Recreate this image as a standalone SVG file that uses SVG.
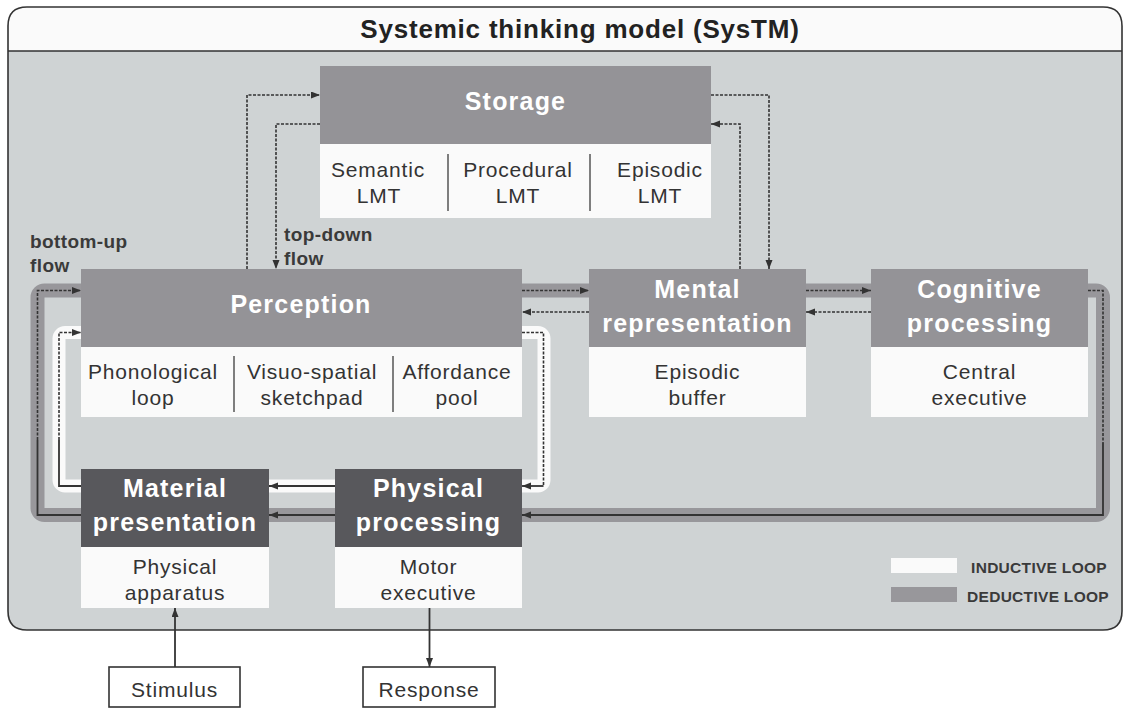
<svg xmlns="http://www.w3.org/2000/svg" width="1125" height="711" viewBox="0 0 1125 711">
<style>
.hdr{fill:#949397}
.hdrd{fill:#58585c}
.sub{fill:#fafafa}
.t-h{font-family:"Liberation Sans",Arial,sans-serif;font-weight:bold;font-size:25px;letter-spacing:1.2px;fill:#ffffff;text-anchor:middle}
.t-s{font-family:"Liberation Sans",Arial,sans-serif;font-size:21px;letter-spacing:0.8px;fill:#333333;text-anchor:middle}
.t-l{font-family:"Liberation Sans",Arial,sans-serif;font-weight:bold;font-size:19px;letter-spacing:0.4px;fill:#3a3a3a}
.t-g{font-family:"Liberation Sans",Arial,sans-serif;font-weight:bold;font-size:15.5px;letter-spacing:0.3px;fill:#3a3a3a;text-anchor:end}
.div{stroke:#555;stroke-width:1.5}
.dash{fill:none;stroke:#333;stroke-width:1.6;stroke-dasharray:3 1.5}
.solid{fill:none;stroke:#333;stroke-width:1.8}
</style>
<defs>
<marker id="ah" markerUnits="userSpaceOnUse" markerWidth="10" markerHeight="8" refX="9" refY="3.5" orient="auto">
<path d="M0,0 L9,3.5 L0,7 z" fill="#333"/>
</marker>
</defs>
<g id="frame">
<path d="M8,51 V26 Q8,7 27,7 H1103 Q1122,7 1122,26 V51 Z" fill="#fafafa"/>
<path d="M8,51 H1122 V611 Q1122,630 1103,630 H27 Q8,630 8,611 Z" fill="#cfd3d4"/>
<path d="M8,51 V26 Q8,7 27,7 H1103 Q1122,7 1122,26 V611 Q1122,630 1103,630 H27 Q8,630 8,611 Z M8,51 H1122" fill="none" stroke="#333" stroke-width="1.6"/>
<text x="580" y="38" font-family="Liberation Sans, Arial, sans-serif" font-weight="bold" font-size="26" letter-spacing="0.8" fill="#222" text-anchor="middle">Systemic thinking model (SysTM)</text>
</g>
<g id="loops">
<rect x="37.5" y="290.5" width="1065.5" height="224.5" rx="7" fill="none" stroke="#98979b" stroke-width="14"/>
<rect x="59" y="332.5" width="485" height="153.5" rx="6" fill="none" stroke="#fafafa" stroke-width="13"/>
</g>
<g id="storage">
<rect class="hdr" x="320" y="66" width="391" height="78"/>
<rect class="sub" x="320" y="144" width="391" height="74"/>
<text class="t-h" x="515.5" y="110">Storage</text>
<line class="div" x1="448" y1="154" x2="448" y2="211"/>
<line class="div" x1="590" y1="154" x2="590" y2="211"/>
<text class="t-s" x="378" y="177">Semantic</text>
<text class="t-s" x="379" y="203">LMT</text>
<text class="t-s" x="518" y="177">Procedural</text>
<text class="t-s" x="518" y="203">LMT</text>
<text class="t-s" x="660" y="177">Episodic</text>
<text class="t-s" x="660" y="203">LMT</text>
</g>
<g id="perception">
<rect class="hdr" x="81" y="269" width="441" height="78"/>
<rect class="sub" x="81" y="347" width="441" height="70"/>
<text class="t-h" x="301" y="313">Perception</text>
<line class="div" x1="234" y1="356" x2="234" y2="412"/>
<line class="div" x1="393" y1="356" x2="393" y2="412"/>
<text class="t-s" x="153" y="379">Phonological</text>
<text class="t-s" x="153" y="405">loop</text>
<text class="t-s" x="312" y="379">Visuo-spatial</text>
<text class="t-s" x="312" y="405">sketchpad</text>
<text class="t-s" x="457" y="379">Affordance</text>
<text class="t-s" x="457" y="405">pool</text>
</g>
<g id="mental">
<rect class="hdr" x="589" y="269" width="217" height="78"/>
<rect class="sub" x="589" y="347" width="217" height="70"/>
<text class="t-h" x="697.5" y="298">Mental</text>
<text class="t-h" x="697.5" y="332">representation</text>
<text class="t-s" x="697.5" y="379">Episodic</text>
<text class="t-s" x="697.5" y="405">buffer</text>
</g>
<g id="cognitive">
<rect class="hdr" x="871" y="269" width="217" height="78"/>
<rect class="sub" x="871" y="347" width="217" height="70"/>
<text class="t-h" x="979.5" y="298">Cognitive</text>
<text class="t-h" x="979.5" y="332">processing</text>
<text class="t-s" x="979.5" y="379">Central</text>
<text class="t-s" x="979.5" y="405">executive</text>
</g>
<g id="material">
<rect class="hdrd" x="81" y="469" width="188" height="78"/>
<rect class="sub" x="81" y="547" width="188" height="61"/>
<text class="t-h" x="175" y="497">Material</text>
<text class="t-h" x="175" y="531">presentation</text>
<text class="t-s" x="175" y="574">Physical</text>
<text class="t-s" x="175" y="600">apparatus</text>
</g>
<g id="physical">
<rect class="hdrd" x="335" y="469" width="187" height="78"/>
<rect class="sub" x="335" y="547" width="187" height="61"/>
<text class="t-h" x="428.5" y="497">Physical</text>
<text class="t-h" x="428.5" y="531">processing</text>
<text class="t-s" x="428.5" y="574">Motor</text>
<text class="t-s" x="428.5" y="600">executive</text>
</g>
<g id="stimulus">
<rect x="109" y="667" width="131" height="40" fill="#fff" stroke="#333" stroke-width="1.6"/>
<text class="t-s" x="174.5" y="697">Stimulus</text>
</g>
<g id="response">
<rect x="363" y="667" width="132" height="40" fill="#fff" stroke="#333" stroke-width="1.6"/>
<text class="t-s" x="429" y="697">Response</text>
</g>
<g id="labels">
<text class="t-l" x="30" y="248">bottom-up</text>
<text class="t-l" x="30" y="272">flow</text>
<text class="t-l" x="284" y="241">top-down</text>
<text class="t-l" x="284" y="265">flow</text>
</g>
<g id="legend">
<rect x="891" y="558" width="66" height="15" fill="#fafafa"/>
<rect x="891" y="587" width="66" height="15" fill="#98979b"/>
<text class="t-g" x="1107" y="573">INDUCTIVE LOOP</text>
<text class="t-g" x="1109" y="602">DEDUCTIVE LOOP</text>
</g>
<g id="connectors">
<path class="solid" d="M81,515 H37.5 V440"/>
<path class="dash" d="M37.5,440 V290.5 H81" marker-end="url(#ah)"/>
<path class="dash" d="M522,290.5 H589" marker-end="url(#ah)"/>
<path class="dash" d="M806,290.5 H871" marker-end="url(#ah)"/>
<path class="dash" d="M1088,290.5 H1103 V443"/>
<path class="solid" d="M1103,443 V515 H522" marker-end="url(#ah)"/>
<path class="solid" d="M335,515 H269" marker-end="url(#ah)"/>
<path class="dash" d="M871,312 H806" marker-end="url(#ah)"/>
<path class="dash" d="M589,312 H522" marker-end="url(#ah)"/>
<path class="solid" d="M81,486 H59 V440"/>
<path class="dash" d="M59,440 V332.5 H81" marker-end="url(#ah)"/>
<path class="dash" d="M522,332.5 H543.5 V486"/>
<path class="solid" d="M543.5,486 H522" marker-end="url(#ah)"/>
<path class="solid" d="M335,486 H269" marker-end="url(#ah)"/>
<path class="dash" d="M247,269 V95 H320" marker-end="url(#ah)"/>
<path class="dash" d="M320,124 H276 V269" marker-end="url(#ah)"/>
<path class="dash" d="M711,95 H769 V269" marker-end="url(#ah)"/>
<path class="dash" d="M740,269 V124 H711" marker-end="url(#ah)"/>
<path class="solid" d="M175,667 V608" marker-end="url(#ah)"/>
<path class="solid" d="M429.5,608 V667" marker-end="url(#ah)"/>
</g>
</svg>
